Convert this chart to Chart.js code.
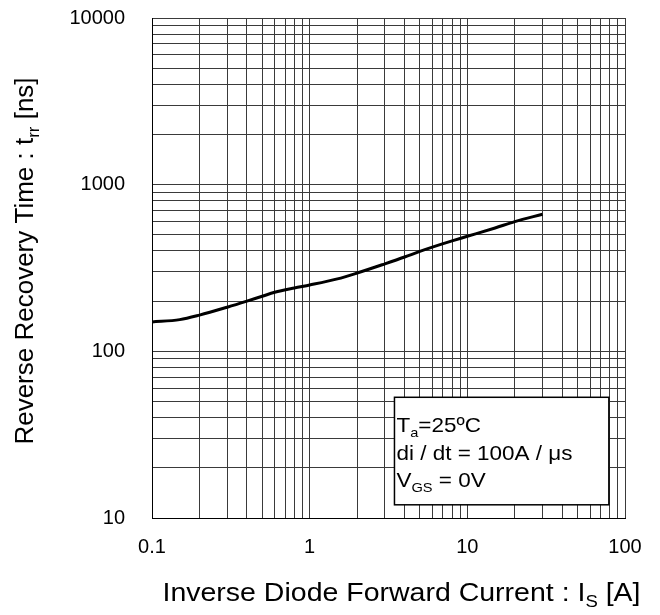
<!DOCTYPE html>
<html>
<head>
<meta charset="utf-8">
<script src="https://cdn.jsdelivr.net/npm/chart.js@4/dist/chart.umd.min.js"></script>
<style>
html, body { margin: 0; padding: 0; background: #fff; }
canvas { display: block; }
</style>
</head>
<body>
<canvas id="myChart" width="660" height="615"></canvas>
<script>
// diode current (A) and recovery time (ns)
const currentA = [0.1, 0.15, 0.2, 0.3, 0.4, 0.5, 0.6, 0.8, 1, 1.5, 2, 3, 4, 5, 6, 8, 10, 15, 20, 30];
const trrNs = [150, 155, 165, 184, 200, 214, 226, 240, 250, 272, 295, 335, 368, 398, 422, 460, 490, 550, 600, 665];

const xRange = [0.1, 100];
const yRange = [10, 10000];

const xTitle = [{ t: 'Inverse Diode Forward Current : I' }, { t: 'S', sub: true }, { t: ' [A]' }];
const yTitle = [{ t: 'Reverse Recovery Time : t' }, { t: 'rr', sub: true }, { t: ' [ns]' }];

// conditions box, corners given in data units
const noteBox = { x1: 3.45, x2: 79, y1: 12, y2: 53 };
const noteLines = [
    [{ t: 'T' }, { t: 'a', sub: true }, { t: '=25ºC' }],
    [{ t: 'di / dt = 100A / μs' }],
    [{ t: 'V' }, { t: 'GS', sub: true }, { t: ' = 0V' }]
];

const family = '"Liberation Sans", Arial, Helvetica, sans-serif';

// text with subscripts
function drawRich(ctx, parts, x, y, size, align) {
    let total = 0;
    parts.forEach(p => {
        ctx.font = (p.sub ? size * 0.65 : size) + 'px ' + family;
        p.w = ctx.measureText(p.t).width;
        total += p.w;
    });
    let cx = align === 'center' ? x - total / 2 : x;
    ctx.textAlign = 'left';
    ctx.textBaseline = 'alphabetic';
    parts.forEach(p => {
        ctx.font = (p.sub ? size * 0.65 : size) + 'px ' + family;
        ctx.fillText(p.t, cx, p.sub ? y + size * 0.22 : y);
        cx += p.w;
    });
}

// only 1..9 x 10^n, drop the 1.5 steps chart.js adds
function keepDecadeSteps(scale) {
    scale.ticks = scale.ticks.filter(t => {
        const m = t.value / Math.pow(10, Math.floor(Math.log10(t.value) + 1e-9));
        return Math.abs(m - Math.round(m)) < 1e-6;
    });
}

function decadeLabel(value) {
    const l = Math.log10(value);
    return Math.abs(l - Math.round(l)) < 1e-6 ? String(value) : '';
}

const notePlugin = {
    id: 'noteBox',
    afterDatasetsDraw(chart) {
        const { ctx, scales: { x, y } } = chart;
        const l = x.getPixelForValue(noteBox.x1), r = x.getPixelForValue(noteBox.x2);
        const t = y.getPixelForValue(noteBox.y2), b = y.getPixelForValue(noteBox.y1);
        ctx.save();
        ctx.fillStyle = '#fff';
        ctx.fillRect(l, t, r - l, b - t);
        ctx.strokeStyle = '#000';
        ctx.lineWidth = 1.5;
        ctx.strokeRect(l, t, r - l, b - t);
        ctx.fillStyle = '#000';
        noteLines.forEach((line, i) => {
            ctx.save();
            ctx.translate(l + 2, t + 35 + i * 27.5);
            ctx.scale(1.07, 1);
            drawRich(ctx, line, 0, 0, 21, 'left');
            ctx.restore();
        });
        ctx.restore();
    }
};

const titlePlugin = {
    id: 'axisTitles',
    afterDraw(chart) {
        const ctx = chart.ctx;
        const area = chart.chartArea;
        ctx.save();
        ctx.fillStyle = '#000';
        ctx.save();
        ctx.translate((area.left + area.right) / 2 + 13, 601);
        ctx.scale(1.14, 1);
        drawRich(ctx, xTitle, 0, 0, 25, 'center');
        ctx.restore();
        ctx.save();
        ctx.translate(33, (area.top + area.bottom) / 2 - 7);
        ctx.rotate(-Math.PI / 2);
        drawRich(ctx, yTitle, 0, 0, 26, 'center');
        ctx.restore();
        ctx.restore();
    }
};

const ctx = document.getElementById('myChart').getContext('2d');
new Chart(ctx, {
    type: 'line',
    data: {
        datasets: [{
            data: currentA.map((v, i) => ({ x: v, y: trrNs[i] })),
            borderColor: '#000',
            borderWidth: 3,
            pointRadius: 0,
            fill: false,
            cubicInterpolationMode: 'monotone'
        }]
    },
    options: {
        responsive: false,
        animation: false,
        devicePixelRatio: 1,
        layout: { padding: { top: 18, right: 35, left: 0, bottom: 0 } },
        plugins: {
            legend: { display: false },
            tooltip: { enabled: false }
        },
        scales: {
            x: {
                type: 'logarithmic',
                min: xRange[0],
                max: xRange[1],
                afterBuildTicks: keepDecadeSteps,
                afterFit(s) { s.height = 97; s.paddingLeft = 0; s.paddingRight = 0; },
                grid: { color: '#3a3a3a', lineWidth: 1, drawTicks: false },
                border: { color: '#000', width: 1 },
                ticks: {
                    autoSkip: false, maxRotation: 0, padding: 17, color: '#000',
                    font: { family: family, size: 20 },
                    callback: decadeLabel
                }
            },
            y: {
                type: 'logarithmic',
                min: yRange[0],
                max: yRange[1],
                afterBuildTicks: keepDecadeSteps,
                afterFit(s) { s.width = 152; s.paddingTop = 0; s.paddingBottom = 0; },
                grid: { color: '#3a3a3a', lineWidth: 1, drawTicks: false },
                border: { color: '#000', width: 1 },
                ticks: {
                    autoSkip: false, padding: 27, color: '#000',
                    font: { family: family, size: 20 },
                    callback: decadeLabel
                }
            }
        }
    },
    plugins: [notePlugin, titlePlugin]
});
</script>
</body>
</html>
